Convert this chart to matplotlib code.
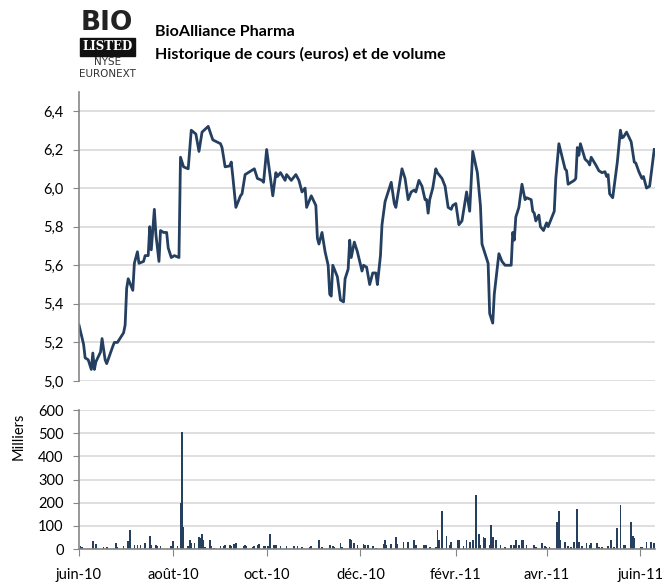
import matplotlib
matplotlib.use("Agg")
import matplotlib.pyplot as plt
import matplotlib.dates as mdates
import numpy as np
import pandas as pd

plt.rcParams['font.family'] = ['Lato', 'DejaVu Sans']

base_date = "2010-06-01"

# Price series: (days since base_date, price in euros)
price_days = [0, 3, 4, 6, 8, 9, 10, 11, 14, 15, 17, 18, 22, 23, 25, 29, 30, 31, 32, 35,
              36, 38, 39, 42, 43, 45, 46, 47, 49, 50, 52, 53, 55, 57, 58, 60, 62, 65, 66, 68,
              71, 73, 76, 78, 80, 84, 87, 92, 93, 95, 98, 99, 100, 102, 105, 106, 108, 112, 114, 116,
              119, 120, 122, 124, 126, 128, 129, 131, 134, 135, 138, 141, 143, 145, 147, 148, 151, 154, 155, 156,
              158, 160, 162, 163, 164, 165, 168, 170, 172, 173, 175, 176, 177, 179, 181, 184, 185, 187, 189, 191,
              193, 194, 196, 197, 199, 203, 205, 206, 208, 210, 212, 214, 216, 218, 219, 221, 223, 225, 226, 227,
              228, 230, 232, 233, 236, 238, 240, 242, 243, 245, 247, 249, 252, 254, 256, 259, 261, 262, 264, 266,
              267, 269, 270, 273, 275, 277, 281, 282, 283, 284, 286, 288, 290, 291, 294, 295, 296, 297, 299, 300,
              302, 304, 305, 309, 310, 312, 316, 317, 318, 322, 323, 324, 325, 326, 329, 331, 332, 333, 336, 338,
              340, 342, 343, 344, 345, 347, 350, 352, 353, 354, 356, 359, 361, 362, 364, 366, 367, 369, 371, 374]
price = [5.29, 5.19, 5.12, 5.11, 5.06, 5.145, 5.06, 5.10, 5.15, 5.22, 5.11, 5.09, 5.18, 5.20, 5.20, 5.25, 5.29, 5.48, 5.53, 5.47,
         5.61, 5.67, 5.61, 5.62, 5.65, 5.65, 5.80, 5.68, 5.89, 5.76, 5.62, 5.78, 5.77, 5.77, 5.69, 5.64, 5.65, 5.64, 6.16, 6.11,
         6.10, 6.30, 6.28, 6.19, 6.29, 6.32, 6.25, 6.23, 6.21, 6.11, 6.115, 6.135, 6.06, 5.90, 5.96, 5.97, 6.07, 6.09, 6.10, 6.05,
         6.04, 6.03, 6.20, 6.08, 5.96, 6.08, 6.06, 6.08, 6.04, 6.07, 6.04, 6.07, 6.04, 5.98, 6.00, 5.90, 5.96, 5.91, 5.74, 5.71,
         5.77, 5.67, 5.60, 5.45, 5.44, 5.60, 5.54, 5.42, 5.41, 5.53, 5.58, 5.73, 5.64, 5.72, 5.67, 5.57, 5.60, 5.59, 5.50, 5.56,
         5.56, 5.50, 5.65, 5.81, 5.93, 6.03, 5.92, 5.90, 6.00, 6.10, 6.05, 5.94, 5.98, 5.99, 5.98, 6.04, 6.01, 5.94, 5.94, 5.87,
         5.94, 6.00, 6.10, 6.08, 6.05, 6.01, 5.90, 5.89, 5.91, 5.92, 5.81, 5.83, 5.98, 5.88, 6.19, 6.08, 5.91, 5.71, 5.66, 5.61,
         5.35, 5.30, 5.45, 5.66, 5.62, 5.60, 5.60, 5.77, 5.73, 5.85, 5.90, 6.02, 5.94, 5.95, 5.94, 5.88, 5.87, 5.83, 5.86, 5.80,
         5.78, 5.82, 5.80, 5.88, 6.05, 6.23, 6.10, 6.09, 6.02, 6.04, 6.05, 6.21, 6.17, 6.23, 6.15, 6.135, 6.12, 6.16, 6.12, 6.09,
         6.08, 6.085, 6.06, 6.07, 5.97, 5.95, 6.135, 6.30, 6.26, 6.265, 6.29, 6.24, 6.135, 6.13, 6.085, 6.05, 6.06, 6.00, 6.01, 6.20]

# Volume (thousands of shares): (days since base_date, volume)
vol_days = [1, 2, 9, 11, 16, 18, 24, 25, 29, 32, 33, 36, 38, 40, 43, 46, 47, 50, 51, 53,
            60, 61, 64, 66, 67, 68, 71, 72, 73, 75, 78, 79, 80, 81, 82, 85, 86, 88, 92, 94,
            95, 98, 99, 101, 102, 107, 108, 109, 113, 114, 116, 117, 120, 121, 123, 124, 127, 128, 131, 135,
            140, 142, 145, 150, 151, 156, 158, 163, 165, 166, 170, 171, 176, 177, 179, 181, 185, 186, 188, 191,
            193, 198, 199, 200, 203, 206, 207, 211, 214, 218, 219, 224, 225, 226, 228, 232, 233, 234, 236, 239,
            241, 242, 246, 247, 250, 252, 254, 256, 258, 260, 261, 263, 264, 267, 268, 269, 271, 274, 277, 281,
            283, 284, 286, 288, 289, 291, 296, 297, 301, 303, 304, 306, 311, 312, 313, 316, 318, 320, 322, 324,
            325, 327, 330, 332, 333, 337, 338, 340, 344, 346, 348, 350, 352, 354, 355, 359, 360, 361, 365, 366,
            369, 372, 374]
volume = [14, 7, 33, 22, 7, 7, 26, 7, 14, 33, 80, 19, 19, 19, 26, 58, 19, 19, 12, 12,
          12, 33, 14, 200, 507, 97, 14, 40, 26, 26, 50, 48, 65, 40, 7, 40, 12, 4, 12, 14,
          19, 19, 12, 22, 26, 12, 19, 12, 7, 14, 19, 22, 12, 12, 14, 65, 19, 19, 12, 12,
          12, 12, 7, 7, 12, 40, 7, 19, 12, 7, 26, 7, 43, 40, 26, 19, 22, 19, 19, 12,
          4, 22, 38, 19, 22, 51, 22, 31, 31, 38, 16, 16, 16, 16, 9, 9, 82, 38, 163, 56,
          19, 31, 41, 38, 12, 41, 31, 41, 232, 63, 19, 51, 49, 19, 103, 51, 38, 16, 9, 16,
          19, 38, 19, 38, 38, 16, 16, 7, 24, 12, 9, 9, 118, 163, 38, 31, 12, 9, 31, 174,
          31, 12, 24, 16, 24, 24, 9, 9, 12, 38, 9, 90, 188, 16, 16, 118, 56, 49, 9, 9,
          31, 31, 26]

tick_dates = ["2010-06-01", "2010-08-01", "2010-10-01", "2010-12-01", "2011-02-01", "2011-04-01", "2011-06-01"]
tick_labels = ["juin-10", "août-10", "oct.-10", "déc.-10", "févr.-11", "avr.-11", "juin-11"]

price_ticks = [5.0, 5.2, 5.4, 5.6, 5.8, 6.0, 6.2, 6.4]
vol_ticks = [0, 100, 200, 300, 400, 500, 600]

line_color = "#243F60"
grid_color = "#D9D9D9"
spine_color = "#868686"

t0 = pd.Timestamp(base_date)
p_dates = [t0 + pd.Timedelta(days=d) for d in price_days]
v_dates = [t0 + pd.Timedelta(days=d) for d in vol_days]
tick_pos = pd.to_datetime(tick_dates)
x_min = t0
x_max = t0 + pd.Timedelta(days=374.5)

fig = plt.figure(figsize=(6.66, 5.84), dpi=100)
fig.patch.set_facecolor("white")

# Price axes
ax1 = fig.add_axes([0.1186, 0.3476, 0.8649, 0.4955])
ax1.plot(p_dates, price, color=line_color, lw=2.0, solid_joinstyle="round")
ax1.set_ylim(5.0, 6.5)
ax1.set_yticks(price_ticks)
ax1.set_yticklabels([f"{v:.1f}".replace(".", ",") for v in price_ticks])
ax1.set_xlim(x_min, x_max)
ax1.set_xticks([])
ax1.yaxis.grid(True, color=grid_color, lw=1.2)
ax1.set_axisbelow(True)
for s in ["top", "right", "bottom"]:
    ax1.spines[s].set_visible(False)
ax1.spines["left"].set_color(spine_color)
ax1.spines["left"].set_linewidth(1.2)
ax1.tick_params(axis="y", direction="out", length=4, color=spine_color, labelsize=10.5, pad=7)

# Volume axes
ax2 = fig.add_axes([0.1186, 0.0599, 0.8649, 0.2380])
ax2.bar(v_dates, volume, width=1.1, color=line_color, align="center")
ax2.set_ylim(0, 600)
ax2.set_yticks(vol_ticks)
ax2.set_xlim(x_min, x_max)
ax2.set_xticks(tick_pos)
ax2.set_xticklabels(tick_labels)
ax2.yaxis.grid(True, color=grid_color, lw=1.2)
ax2.set_axisbelow(True)
for s in ["top", "right"]:
    ax2.spines[s].set_visible(False)
for s in ["left", "bottom"]:
    ax2.spines[s].set_color(spine_color)
    ax2.spines[s].set_linewidth(1.2)
ax2.tick_params(axis="y", direction="out", length=4, color=spine_color, labelsize=10.5, pad=7)
ax2.tick_params(axis="x", direction="out", length=5, color=spine_color, labelsize=10.5, pad=9)
ax2.set_ylabel("Milliers", fontsize=10.5)
ax2.yaxis.set_label_coords(-0.092, 0.81)

# Title
fig.text(0.2327, 0.945, "BioAlliance Pharma", fontsize=11.6, fontweight="bold", ha="left", va="center")
fig.text(0.2327, 0.907, "Historique de cours (euros) et de volume", fontsize=11.6, fontweight="bold",
         ha="left", va="center")

# Logo
fig.text(0.161, 0.960, "BIO", fontsize=19, fontweight="bold", ha="center", va="center",
         family=["DejaVu Sans"], color="#222222")
fig.text(0.161, 0.920, "LISTED", fontsize=8.5, fontweight="bold", ha="center", va="center", color="white",
         family=["DejaVu Serif"], bbox=dict(boxstyle="square,pad=0.2", fc="#111111", ec="#111111"))
fig.text(0.161, 0.893, "NYSE", fontsize=7.5, ha="center", va="center", family=["DejaVu Sans"], color="#333333")
fig.text(0.161, 0.873, "EURONEXT", fontsize=7.5, ha="center", va="center", family=["DejaVu Sans"],
         color="#333333")

fig.savefig("out.png", dpi=100, facecolor="white")
